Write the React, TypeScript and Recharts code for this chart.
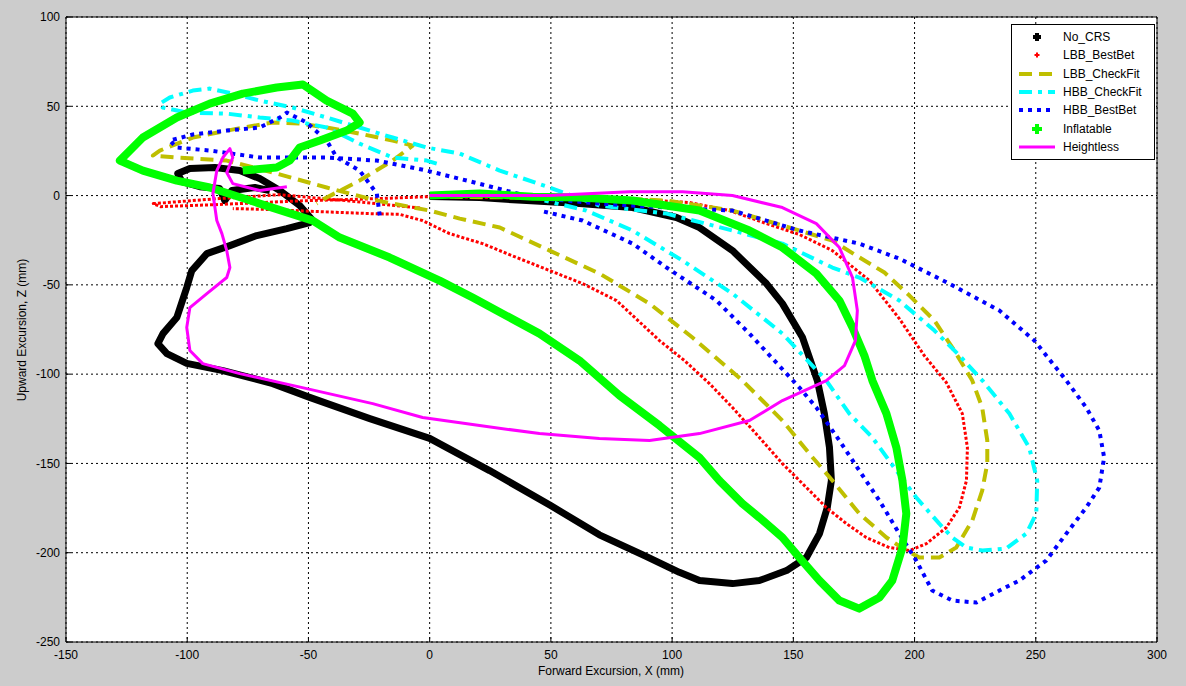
import React from 'react';
import { ScatterChart, Scatter, XAxis, YAxis, CartesianGrid } from 'recharts';

type Pt = [number, number];

const xTicks = [-150, -100, -50, 0, 50, 100, 150, 200, 250, 300];
const yTicks = [-250, -200, -150, -100, -50, 0, 50, 100];

// values, in mm
const noCrs: Pt[] = [
  [0, -0.5], [20.6, -1.1], [40, -2.8], [61.8, -4.5], [83.7, -6.7], [101.8, -12.3], [111.3, -17.9],
  [124.9, -30.8], [138.9, -49.3], [145.5, -60.5], [153.8, -79.5], [159.9, -103.6], [162.8, -122],
  [164.9, -141], [165.7, -159.6], [164, -174.7], [160.8, -189.3], [155.4, -202.7], [147.2, -210],
  [136, -215.6], [124.9, -217.3], [111.3, -215.6], [103, -211], [88.6, -201.6], [70, -190],
  [49.9, -173.6], [24.7, -154], [0, -136], [-24.7, -124.9], [-49.5, -113], [-64.7, -105.3],
  [-85.3, -98], [-100.2, -94], [-108.4, -88.5], [-112.1, -82.9], [-110, -77.3], [-104.3, -68.3],
  [-100.2, -51.5], [-98.1, -42], [-91.9, -32.5], [-82.4, -28], [-71.3, -22.4], [-58.9, -18.5],
  [-49.5, -15.1], [-48.2, -14], [-53.6, -5.6], [-61.8, 2.8], [-70.1, 9.5], [-78.3, 14],
  [-88.6, 15.7], [-98.9, 15.1], [-103.9, 12.3], [-102.2, 7.8], [-94.8, 5], [-86.6, 3.9],
  [-84.5, -2.8], [-81.6, 2.8], [-72.1, 4.5], [-65.9, 2.8],
];

const lbbBestBet: Pt[] = [
  [-4, -7], [-33, -3], [-62, 0.5], [-87, -1.7], [-114, -4.5], [-111, -6.2], [-87, -5], [-54, -3],
  [-21, -1.7], [0, -0.6], [28.9, -1.1], [61.8, -1.7], [87.8, -2.2], [107.2, -3.9], [123.7, -8.4],
  [138.9, -15.7], [152.5, -21.8], [166.1, -30.8], [181.4, -47.6], [193.7, -68.9], [204, -89.6],
  [213.1, -104.7], [219.7, -122.1], [221.8, -141.1], [221.4, -159.6], [218.5, -174.7],
  [213.1, -185.9], [204.9, -194.9], [197.9, -198.8], [189.6, -197.1], [180.1, -191.5],
  [171.9, -183.7], [163.6, -174.7], [155.4, -163.5], [145.5, -150.1], [136, -135.5],
  [124.9, -118.7], [115.4, -105.3], [105.1, -92.4], [94.8, -81.2], [77.1, -58.8], [63.1, -49.3],
  [49.5, -42], [35.9, -34.7], [21.8, -26.9], [8.2, -21.3], [-3, -14], [-12.4, -10.5],
  [-24.7, -10.1], [-45.3, -9], [-66, -7.8], [-81.2, -7.3],
];

const lbbCheckFit: Pt[] = [
  [0, -0.6], [37.1, -1.1], [70.1, -1.1], [97.7, -2.8], [124.9, -8.4], [152.5, -19.6], [166.1, -25.2],
  [176, -33.6], [187.6, -43.1], [197.9, -56], [208.2, -70], [216.4, -86.8], [223.8, -103.6],
  [227.9, -118.7], [230, -137.2], [230, -150.1], [227.9, -165.2], [223.8, -182], [217.2, -197.1],
  [210.2, -202.7], [202, -202.7], [196.6, -198.8], [188.4, -191.5], [177.2, -178.1],
  [166.1, -159.6], [156.6, -144.5], [145.5, -126], [129, -103.6], [108.4, -79.5], [90.7, -60.5],
  [70.1, -43.7], [49.5, -30.8], [28.9, -17.9], [12.4, -12.9], [0, -8.4], [-21.8, -2.8],
  [-42.5, 4.5], [-63.1, 12.3], [-83.7, 19.6], [-104.3, 21.3], [-114.2, 22.4], [-111.3, 25.2],
  [-97.7, 32.5], [-77.1, 38.1], [-64.7, 40.9], [-53.6, 40.3], [-42.5, 38.1], [-28.9, 34.7],
  [-15.3, 30.8], [-7, 28], [-15.3, 19.6], [-28.9, 8.4], [-42.5, -1.1], [-46.6, -4.5],
];

const hbbCheckFit: Pt[] = [
  [2.9, 17.9], [-1.2, 19.6], [-15.3, 21.3], [-28.9, 29.1], [-42.5, 38.1], [-56.5, 42], [-70.1, 43.7],
  [-83.7, 45.9], [-100.2, 46.5], [-110.1, 49.3], [-111.3, 51.5], [-107.2, 54.9], [-97.7, 58.8],
  [-90.7, 59.9], [-81.2, 57.1], [-70.1, 53.2], [-56.5, 49.3], [-42.5, 43.7], [-28.9, 38.1],
  [-15.3, 32.5], [-1.2, 26.9], [12.4, 23.5], [28.9, 14], [49.5, 4.5], [70.1, -5.6], [97.7, -10.1],
  [124.9, -19.6], [145.5, -26.9], [166.1, -40.3], [177.2, -45.9], [193.7, -58.8], [208.2, -75.6],
  [218.5, -89.6], [228, -103.6], [239.1, -122.1], [247.3, -141.1], [250.6, -159.6], [250.2, -178.1],
  [246.1, -189.3], [237.8, -197.7], [228, -198.8], [221.4, -197.1], [215.6, -191.5],
  [210.2, -183.7], [200.7, -169.1], [192.5, -154], [182.6, -135.5], [173.1, -122.1],
  [163.6, -103.6], [145.5, -77.3], [124.9, -54.9], [104.3, -36.4], [83.7, -19.6], [64.7, -8.4],
  [47.4, -2.8],
];

const hbbBestBet: Pt[] = [
  [-20.6, -11.2], [-21.8, 1.1], [-28.9, 14], [-38.3, 21.3], [-42.5, 30.8], [-50.7, 40.9],
  [-58.9, 46.5], [-61.8, 43.7], [-70.1, 38.1], [-83.7, 36.4], [-97.7, 34.2], [-107.2, 30.8],
  [-104.3, 26.9], [-90.7, 25.2], [-70.1, 21.3], [-42.5, 21.3], [-21.8, 19.6], [-1.2, 14],
  [15.3, 8.4], [42.5, -1.1], [70.1, -4.5], [97.7, -6.7], [124.9, -8.4], [152.5, -19.6],
  [177.2, -26.9], [193.7, -35.3], [214.3, -49.3], [235, -64.4], [249.4, -81.2], [262.6, -103.6],
  [270.8, -118.7], [276.2, -131.6], [278.2, -146.7], [276.2, -163.5], [270.8, -174.7],
  [262.6, -189.3], [254.3, -204.4], [243.2, -215.6], [235, -221.2], [225.5, -227.9],
  [215.6, -226.8], [207.3, -221.2], [200.7, -204.4], [193.7, -189.3], [185.5, -170.8],
  [177.2, -154], [169, -137.2], [159.5, -118.7], [152.5, -107.5], [131.9, -77.3], [118.3, -58.8],
  [97.7, -40.3], [83.7, -26.9], [63.1, -14], [45.3, -8.4],
];

const inflatable: Pt[] = [
  [0, 0], [20.6, 1.1], [42.5, -0.6], [61.8, -1.1], [83.7, -2.8], [111.3, -8.4], [131.9, -19.6],
  [145.5, -29.1], [159.5, -43.7], [169, -58.8], [174.4, -73.9], [179.3, -89.6], [182.6, -103.6],
  [188.4, -122.1], [192.5, -141.1], [195, -159.6], [196.6, -178.1], [195, -197.1], [190.8, -215.6],
  [185.5, -225.1], [177.2, -231.3], [169, -226.8], [160.8, -215.6], [152.5, -202.7],
  [145.5, -191.5], [136, -180.3], [129, -172.5], [119.5, -159.6], [111.3, -146.7], [94.8, -128.8],
  [78.3, -112], [61.8, -92.4], [45.3, -77.3], [17.7, -57.1], [4.1, -47.6], [-16.5, -34.7],
  [-37.1, -23.5], [-48.2, -14], [-70.1, -4.5], [-90.7, 4.5], [-104.3, 8.4], [-118.3, 14],
  [-127.8, 19.6], [-118.3, 32.5], [-104.3, 43.7], [-90.7, 51.5], [-77.1, 57.1], [-63.1, 60.5],
  [-52.3, 62.2], [-42.5, 53.2], [-31.7, 45.9], [-28.9, 40.9], [-34.2, 36.4], [-45.3, 30.8],
  [-53.6, 26.9], [-57.7, 19.6], [-63.1, 15.7], [-77.1, 14],
];

const heightless: Pt[] = [
  [0, 0], [24.7, 0], [49.5, 0], [82.4, 2.2], [104.3, 2.2], [124.9, 0], [145.5, -6.7], [159.5, -15.7],
  [169, -29.1], [174.4, -45.9], [176.4, -64.4], [175.6, -81.2], [171.1, -95.2], [163.6, -103.6],
  [145.5, -114.8], [131.9, -126], [111.3, -133.3], [90.7, -137.2], [70, -136.1], [45.3, -133.3],
  [20.6, -128.8], [-2.9, -124.3], [-23.5, -116.5], [-50.7, -108.1], [-78.3, -99.7], [-93.6, -94.1],
  [-98.9, -86.8], [-100.2, -73.9], [-98.9, -62.7], [-91.9, -54.9], [-83.7, -45.9], [-82.4, -40.3],
  [-83.7, -30.8], [-85.7, -21.3], [-87.8, -14], [-89.4, 1.1], [-87.8, 14], [-85.3, 21.3],
  [-82.4, 26.3], [-81.2, 21.3], [-83.7, 12.9], [-81.2, 6.7], [-70.1, 2.8], [-58.9, 5],
];

interface SeriesDef {
  name: string;
  points: Pt[];
  color: string;
  width: number;
  dash?: string;
  marker?: 'plus' | 'smallplus';
}

const series: SeriesDef[] = [
  { name: 'No_CRS', points: noCrs, color: '#000000', width: 7, marker: 'plus' },
  { name: 'LBB_BestBet', points: lbbBestBet, color: '#ff0000', width: 3, dash: '3 2', marker: 'smallplus' },
  { name: 'LBB_CheckFit', points: lbbCheckFit, color: '#bfbf00', width: 4, dash: '13 7' },
  { name: 'HBB_CheckFit', points: hbbCheckFit, color: '#00ffff', width: 4, dash: '13 6 4 6' },
  { name: 'HBB_BestBet', points: hbbBestBet, color: '#0000ff', width: 4, dash: '4 5' },
  { name: 'Inflatable', points: inflatable, color: '#00ff00', width: 8, marker: 'plus' },
  { name: 'Heightless', points: heightless, color: '#ff00ff', width: 3 },
];

const font = '"Liberation Sans", Arial, sans-serif';
const tickStyle = { fill: '#000', fontSize: 12, fontFamily: font };

const LegendSample = ({ s }: { s: SeriesDef }) => {
  let mark: React.ReactNode;
  if (s.marker === 'plus') {
    const c = s.name === 'Inflatable' ? 5 : 4;
    mark = (
      <g fill={s.color}>
        <rect x={20 - c} y={9 - 2} width={c * 2} height={4} />
        <rect x={18} y={9 - c} width={4} height={c * 2} />
      </g>
    );
  } else if (s.marker === 'smallplus') {
    mark = (
      <g fill={s.color}>
        <rect x={17.5} y={8} width={5} height={2} />
        <rect x={19} y={6.5} width={2} height={5} />
      </g>
    );
  } else {
    mark = <line x1={2} y1={9} x2={38} y2={9} stroke={s.color} strokeWidth={s.width} strokeDasharray={s.dash} />;
  }
  return (
    <svg width={40} height={18} style={{ display: 'block' }}>
      {mark}
    </svg>
  );
};

const App: React.FC = () => {
  return (
    <div style={{ position: 'absolute', left: 0, top: 0, width: 1186, height: 686, background: '#cccccc', fontFamily: font, overflow: 'hidden' }}>
      <ScatterChart width={1186} height={686} margin={{ top: 16, right: 28, bottom: 0, left: 0 }}>
        <CartesianGrid stroke="#000" strokeDasharray="2 3" strokeWidth={1} fill="#ffffff" fillOpacity={1} />
        <XAxis
          type="number"
          dataKey="x"
          domain={[-150, 300]}
          ticks={xTicks}
          allowDataOverflow
          height={44}
          tick={tickStyle}
          tickSize={-5}
          tickMargin={13}
          axisLine={{ stroke: '#000' }}
          tickLine={{ stroke: '#000' }}
        />
        <XAxis
          xAxisId="top"
          orientation="top"
          type="number"
          domain={[-150, 300]}
          ticks={xTicks}
          allowDataOverflow
          height={1}
          tick={false}
          tickSize={-5}
          axisLine={{ stroke: '#000' }}
          tickLine={{ stroke: '#000' }}
        />
        <YAxis
          type="number"
          dataKey="y"
          domain={[-250, 100]}
          ticks={yTicks}
          allowDataOverflow
          width={66}
          tick={tickStyle}
          tickSize={-5}
          tickMargin={11}
          axisLine={{ stroke: '#000' }}
          tickLine={{ stroke: '#000' }}
        />
        <YAxis
          yAxisId="right"
          orientation="right"
          type="number"
          domain={[-250, 100]}
          ticks={yTicks}
          allowDataOverflow
          width={1}
          tick={false}
          tickSize={-5}
          axisLine={{ stroke: '#000' }}
          tickLine={{ stroke: '#000' }}
        />
        {series.map((s) => (
          <Scatter
            key={s.name}
            name={s.name}
            data={s.points.map(([x, y]) => ({ x, y }))}
            fill={s.color}
            line={{ stroke: s.color, strokeWidth: s.width, strokeDasharray: s.dash, strokeLinejoin: 'round' }}
            lineType="joint"
            shape={() => <g />}
            isAnimationActive={false}
          />
        ))}
      </ScatterChart>

      <div style={{ position: 'absolute', left: 611, top: 664, transform: 'translateX(-50%)', fontSize: 12, whiteSpace: 'nowrap', color: '#000' }}>
        Forward Excursion, X (mm)
      </div>
      <div style={{ position: 'absolute', left: 22, top: 330, transform: 'translate(-50%, -50%) rotate(-90deg)', fontSize: 12, whiteSpace: 'nowrap', color: '#000' }}>
        Upward Excursion, Z (mm)
      </div>

      <div style={{ position: 'absolute', left: 1011, top: 24, width: 142, height: 131, background: '#fff', border: '1px solid #000', paddingTop: 3, boxSizing: 'content-box' }}>
        {series.map((s) => (
          <div key={s.name} style={{ display: 'flex', alignItems: 'center', height: 18.3 }}>
            <div style={{ marginLeft: 5 }}>
              <LegendSample s={s} />
            </div>
            <span style={{ marginLeft: 6, fontSize: 12, color: '#000' }}>{s.name}</span>
          </div>
        ))}
      </div>
    </div>
  );
};

export default App;
